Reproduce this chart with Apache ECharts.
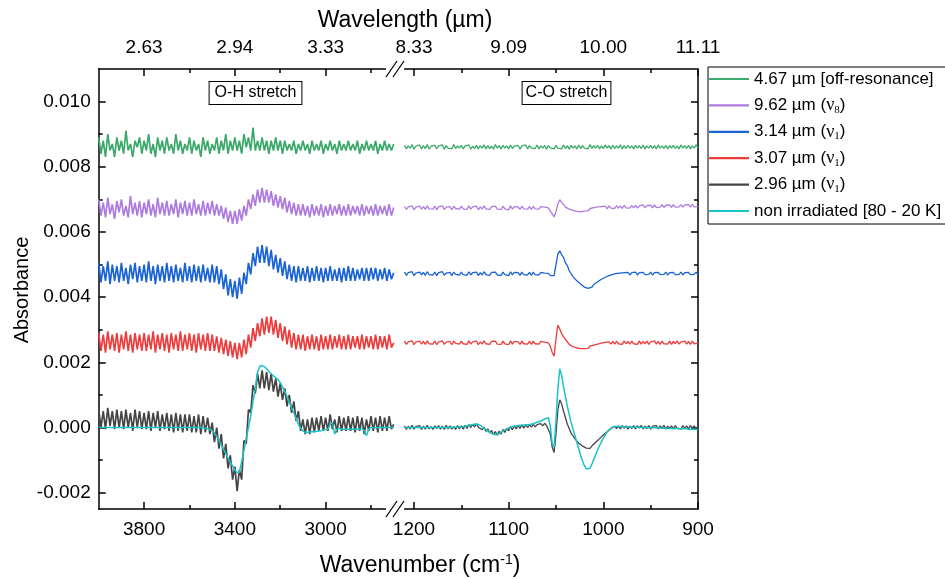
<!DOCTYPE html>
<html><head><meta charset="utf-8">
<script src="https://cdn.jsdelivr.net/npm/echarts@6/dist/echarts.min.js"></script>
<style>html,body{margin:0;padding:0;background:#fff}#c{width:945px;height:579px}</style>
</head><body><div id="c"></div>
<script>
// ---------- x sampling (wavenumber, cm-1) ----------
const wnLeft = [
4000,3990,3980,3970,3960,3950,3940,3930,3920,3910,
3900,3890,3880,3870,3860,3850,3840,3830,3820,3810,
3800,3790,3780,3770,3760,3750,3740,3730,3720,3710,
3700,3690,3680,3670,3660,3650,3640,3630,3620,3610,
3600,3590,3580,3570,3560,3550,3540,3530,3520,3510,
3500,3490,3480,3470,3460,3450,3440,3430,3420,3410,
3400,3390,3380,3370,3360,3350,3340,3330,3320,3310,
3300,3290,3280,3270,3260,3250,3240,3230,3220,3210,
3200,3190,3180,3170,3160,3150,3140,3130,3120,3110,
3100,3090,3080,3070,3060,3050,3040,3030,3020,3010,
3000,2990,2980,2970,2960,2950,2940,2930,2920,2910,
2900,2890,2880,2870,2860,2850,2840,2830,2820,2810,
2800,2790,2780,2770,2760,2750,2740,2730,2720,2710,
2700];
const wnRight = [
1210,1208,1206,1204,1202,1200,1198,1196,1194,1192,
1190,1188,1186,1184,1182,1180,1178,1176,1174,1172,
1170,1168,1166,1164,1162,1160,1158,1156,1154,1152,
1150,1148,1146,1144,1142,1140,1138,1136,1134,1132,
1130,1128,1126,1124,1122,1120,1118,1116,1114,1112,
1110,1108,1106,1104,1102,1100,1098,1096,1094,1092,
1090,1088,1086,1084,1082,1080,1078,1076,1074,1072,
1070,1068,1066,1064,1062,1060,1058,1056,1054,1052,
1050,1048,1046,1044,1042,1040,1038,1036,1034,1032,
1030,1028,1026,1024,1022,1020,1018,1016,1014,1012,
1010,1008,1006,1004,1002,1000,998,996,994,992,
990,988,986,984,982,980,978,976,974,972,
970,968,966,964,962,960,958,956,954,952,
950,948,946,944,942,940,938,936,934,932,
930,928,926,924,922,920,918,916,914,912,
910,908,906,904,902,900];

// ---------- series names & colours ----------
const seriesNames = ['4.67 µm [off-resonance]','9.62 µm (ν8)','3.14 µm (ν1)','3.07 µm (ν1)','2.96 µm (ν1)','non irradiated [80 - 20 K]'];
const seriesColors = ['#3aa96b','#ad7be0','#1a63d6','#ee3b3b','#454545','#17c4c8'];

// ---------- absorbance values, in units of 10^-3 ----------
const offResLeft = [
8.9,8.4,8.8,8.3,9.0,8.5,8.7,8.3,8.9,8.5,
8.8,8.4,9.1,8.5,8.7,8.3,8.8,8.6,8.9,8.4,
8.8,8.5,9.0,8.4,8.7,8.3,8.9,8.5,8.8,8.4,
8.9,8.5,8.7,8.4,9.0,8.5,8.8,8.4,8.7,8.5,
8.9,8.4,8.8,8.5,8.7,8.3,8.9,8.5,8.8,8.4,
8.7,8.5,8.9,8.4,8.8,8.5,9.0,8.4,8.8,8.5,
8.9,8.5,8.8,8.4,9.0,8.6,8.9,8.5,9.2,8.5,
8.8,8.5,8.9,8.5,8.8,8.4,8.8,8.5,8.9,8.5,
8.8,8.4,8.8,8.5,8.7,8.5,8.8,8.4,8.7,8.5,
8.8,8.5,8.7,8.4,8.8,8.5,8.7,8.5,8.8,8.4,
8.7,8.5,8.8,8.5,8.7,8.4,8.8,8.5,8.7,8.5,
8.8,8.5,8.7,8.5,8.8,8.4,8.7,8.5,8.8,8.5,
8.7,8.5,8.8,8.4,8.7,8.5,8.8,8.5,8.7,8.5,
8.7];
const nu8Left = [
7.0,6.5,6.9,6.45,7.05,6.55,6.85,6.4,6.95,6.6,
7.0,6.5,6.8,6.45,7.1,6.55,6.9,6.5,6.95,6.45,
6.9,6.55,7.0,6.5,6.85,6.45,7.05,6.55,6.9,6.5,
6.95,6.5,6.85,6.55,7.0,6.45,6.9,6.55,6.95,6.5,
6.9,6.5,7.0,6.55,6.85,6.5,6.95,6.5,6.9,6.55,
6.95,6.5,6.85,6.5,6.8,6.4,6.75,6.3,6.65,6.25,
6.65,6.25,6.7,6.35,6.8,6.5,7.0,6.7,7.15,6.8,
7.3,6.9,7.35,6.9,7.3,6.9,7.25,6.8,7.15,6.75,
7.1,6.7,7.05,6.6,6.95,6.55,6.9,6.5,6.85,6.5,
6.85,6.5,6.8,6.45,6.85,6.5,6.8,6.5,6.85,6.45,
6.8,6.5,6.85,6.5,6.8,6.55,6.85,6.5,6.8,6.5,
6.85,6.5,6.8,6.55,6.8,6.5,6.85,6.5,6.8,6.55,
6.8,6.5,6.85,6.5,6.8,6.55,6.8,6.5,6.85,6.5,
6.75];
const nu1BlueLeft = [
5.05,4.45,4.95,4.5,5.1,4.4,5.0,4.5,4.95,4.45,
5.05,4.5,4.9,4.4,5.0,4.55,5.05,4.45,4.95,4.5,
5.0,4.45,5.1,4.5,4.95,4.4,5.0,4.5,4.95,4.45,
5.05,4.5,4.95,4.45,5.0,4.5,4.9,4.45,5.05,4.5,
4.95,4.45,5.0,4.5,4.95,4.45,5.0,4.5,4.9,4.45,
5.0,4.45,4.95,4.4,4.85,4.25,4.7,4.05,4.55,4.0,
4.5,3.95,4.6,4.1,4.75,4.4,5.05,4.7,5.35,4.95,
5.55,5.05,5.6,5.05,5.55,4.95,5.45,4.85,5.3,4.75,
5.2,4.65,5.1,4.55,5.0,4.5,4.95,4.45,4.95,4.5,
4.9,4.5,4.95,4.45,4.9,4.5,4.95,4.5,4.9,4.45,
4.9,4.5,4.95,4.5,4.85,4.5,4.9,4.45,4.9,4.5,
4.95,4.5,4.9,4.5,4.85,4.55,4.9,4.5,4.9,4.5,
4.9,4.55,4.9,4.5,4.85,4.55,4.9,4.5,4.85,4.55,
4.75];
const nu1RedLeft = [
2.9,2.35,2.85,2.3,2.95,2.4,2.85,2.35,2.9,2.3,
2.85,2.4,2.95,2.35,2.85,2.3,2.9,2.4,2.85,2.35,
2.9,2.35,2.85,2.4,2.95,2.3,2.85,2.4,2.9,2.35,
2.85,2.3,2.9,2.4,2.85,2.35,2.95,2.35,2.85,2.4,
2.9,2.35,2.85,2.3,2.9,2.4,2.85,2.35,2.9,2.35,
2.85,2.35,2.8,2.3,2.75,2.25,2.7,2.2,2.65,2.15,
2.6,2.1,2.6,2.15,2.7,2.25,2.85,2.45,3.05,2.65,
3.2,2.8,3.35,2.85,3.4,2.9,3.4,2.85,3.3,2.75,
3.2,2.65,3.1,2.55,3.0,2.45,2.9,2.4,2.85,2.4,
2.85,2.35,2.8,2.4,2.85,2.4,2.8,2.35,2.85,2.4,
2.8,2.4,2.85,2.4,2.8,2.45,2.85,2.4,2.8,2.4,
2.85,2.4,2.8,2.45,2.8,2.4,2.85,2.4,2.8,2.45,
2.8,2.4,2.85,2.4,2.8,2.45,2.8,2.4,2.85,2.45,
2.6];
const nu1GrayLeft = [
0.55,0.00,0.50,-0.05,0.60,0.05,0.50,-0.05,0.55,0.00,
0.50,-0.05,0.55,0.00,0.45,-0.10,0.55,0.00,0.50,-0.05,
0.45,-0.05,0.50,-0.10,0.45,0.00,0.50,-0.10,0.40,-0.05,
0.45,-0.10,0.40,-0.15,0.45,-0.10,0.40,-0.15,0.40,-0.10,
0.40,-0.15,0.35,-0.15,0.40,-0.20,0.35,-0.15,0.30,-0.20,
0.15,-0.45,0.00,-0.65,-0.20,-0.95,-0.50,-1.25,-0.85,-1.60,
-1.20,-1.95,-1.30,-1.60,-0.40,-0.50,0.55,0.45,1.30,1.05,
1.65,1.20,1.75,1.20,1.70,1.15,1.65,1.10,1.50,0.95,
1.35,0.85,1.20,0.65,1.00,0.45,0.80,0.20,0.50,-0.10,
0.25,-0.20,0.25,-0.20,0.30,-0.15,0.30,-0.10,0.35,-0.10,
0.30,-0.10,0.40,-0.05,0.25,-0.15,0.35,-0.10,0.30,-0.10,
0.35,-0.10,0.30,-0.15,0.35,-0.10,0.30,-0.20,0.25,-0.10,
0.35,-0.10,0.30,-0.15,0.35,-0.10,0.30,-0.10,0.35,-0.05,
0.10];
const nonIrrLeft = [
0,0,0,0,0,0,0,0,0,0,
0,0,0,0,0,0,0,0,0,0,
0,0,0,0,0,0,0,0,0,0,
0,0,0,0,0,0,0,0,0,0,
0,0,0,0,0,0,-0.01,-0.02,-0.04,-0.06,
-0.10,-0.17,-0.27,-0.40,-0.53,-0.67,-0.80,-0.94,-1.07,-1.18,
-1.30,-1.38,-1.37,-1.05,-0.70,-0.35,0.00,0.35,0.80,1.20,
1.70,1.88,1.90,1.87,1.80,1.72,1.65,1.59,1.53,1.47,
1.38,1.25,1.10,0.95,0.80,0.60,0.45,0.28,0.10,-0.02,
-0.10,-0.15,-0.15,-0.14,-0.13,-0.12,-0.12,-0.11,-0.10,-0.08,
-0.06,-0.05,0.10,0.15,-0.20,-0.05,-0.02,-0.06,-0.06,-0.05,
-0.05,-0.05,-0.05,-0.05,-0.05,-0.05,-0.02,-0.10,-0.25,-0.05,
0,0,0,0,0,0,0,0,0,0,
0];

const offResRight = [
8.66,8.55,8.64,8.57,8.68,8.54,8.63,8.58,8.67,8.55,
8.65,8.56,8.68,8.54,8.63,8.57,8.66,8.55,8.64,8.58,
8.67,8.54,8.65,8.57,8.63,8.55,8.68,8.56,8.64,8.57,
8.66,8.55,8.64,8.58,8.67,8.54,8.63,8.56,8.66,8.55,
8.64,8.57,8.67,8.55,8.65,8.56,8.63,8.54,8.68,8.57,
8.65,8.55,8.66,8.57,8.64,8.55,8.67,8.56,8.63,8.57,
8.66,8.54,8.64,8.58,8.67,8.55,8.65,8.57,8.63,8.56,
8.67,8.55,8.64,8.57,8.66,8.54,8.65,8.58,8.64,8.55,
8.66,8.57,8.63,8.55,8.67,8.56,8.65,8.54,8.66,8.57,
8.64,8.55,8.67,8.56,8.65,8.57,8.63,8.55,8.68,8.56,
8.65,8.57,8.66,8.55,8.64,8.56,8.67,8.57,8.65,8.55,
8.66,8.56,8.64,8.57,8.67,8.55,8.65,8.56,8.66,8.57,
8.64,8.55,8.66,8.57,8.65,8.56,8.67,8.55,8.64,8.57,
8.66,8.56,8.65,8.55,8.67,8.57,8.64,8.56,8.66,8.55,
8.65,8.57,8.66,8.56,8.64,8.55,8.67,8.57,8.65,8.56,
8.66,8.55,8.64,8.57,8.67,8.58];
const nu8Right = [
6.79,6.69,6.77,6.71,6.80,6.68,6.76,6.72,6.79,6.70,
6.78,6.69,6.80,6.71,6.76,6.70,6.79,6.68,6.77,6.72,
6.80,6.69,6.76,6.71,6.78,6.68,6.79,6.72,6.77,6.70,
6.79,6.71,6.76,6.69,6.80,6.70,6.77,6.72,6.79,6.68,
6.77,6.70,6.80,6.71,6.76,6.69,6.78,6.72,6.79,6.70,
6.76,6.69,6.79,6.71,6.77,6.68,6.80,6.70,6.78,6.72,
6.77,6.69,6.79,6.71,6.76,6.70,6.78,6.69,6.79,6.71,
6.77,6.70,6.78,6.72,6.76,6.70,6.74,6.63,6.56,6.46,
6.62,6.86,6.99,6.91,6.87,6.76,6.75,6.70,6.72,6.66,
6.69,6.63,6.68,6.62,6.68,6.64,6.69,6.65,6.72,6.68,
6.75,6.70,6.77,6.71,6.78,6.72,6.79,6.71,6.80,6.73,
6.79,6.72,6.81,6.73,6.80,6.72,6.82,6.74,6.80,6.73,
6.81,6.74,6.82,6.73,6.80,6.75,6.83,6.74,6.81,6.75,
6.82,6.74,6.83,6.75,6.81,6.76,6.84,6.75,6.82,6.76,
6.83,6.75,6.84,6.76,6.82,6.77,6.84,6.76,6.83,6.77,
6.84,6.76,6.85,6.77,6.83,6.78];
const nu1BlueRight = [
4.77,4.67,4.75,4.69,4.78,4.66,4.74,4.70,4.77,4.68,
4.76,4.67,4.78,4.69,4.74,4.68,4.77,4.66,4.75,4.70,
4.78,4.67,4.74,4.69,4.76,4.66,4.77,4.70,4.75,4.68,
4.77,4.69,4.74,4.67,4.78,4.68,4.75,4.70,4.77,4.66,
4.75,4.68,4.78,4.69,4.74,4.67,4.76,4.70,4.77,4.68,
4.74,4.67,4.77,4.69,4.75,4.66,4.78,4.68,4.76,4.70,
4.75,4.67,4.77,4.69,4.74,4.68,4.76,4.67,4.77,4.69,
4.75,4.68,4.76,4.70,4.74,4.68,4.73,4.66,4.61,4.66,
5.00,5.33,5.42,5.30,5.22,5.05,4.97,4.81,4.75,4.63,
4.60,4.50,4.49,4.40,4.39,4.31,4.32,4.27,4.32,4.31,
4.39,4.39,4.47,4.47,4.55,4.54,4.61,4.60,4.66,4.64,
4.70,4.67,4.73,4.69,4.74,4.68,4.75,4.69,4.76,4.68,
4.75,4.69,4.77,4.68,4.75,4.70,4.76,4.69,4.74,4.70,
4.77,4.68,4.75,4.70,4.76,4.69,4.74,4.70,4.77,4.68,
4.75,4.70,4.76,4.69,4.74,4.70,4.77,4.68,4.75,4.70,
4.76,4.69,4.75,4.70,4.77,4.69];
const nu1RedRight = [
2.65,2.55,2.63,2.57,2.66,2.54,2.62,2.58,2.65,2.56,
2.64,2.55,2.66,2.57,2.62,2.56,2.65,2.54,2.63,2.58,
2.66,2.55,2.62,2.57,2.64,2.54,2.65,2.58,2.63,2.56,
2.65,2.57,2.62,2.55,2.66,2.56,2.63,2.58,2.65,2.54,
2.63,2.56,2.66,2.57,2.62,2.55,2.64,2.58,2.65,2.56,
2.62,2.55,2.65,2.57,2.63,2.54,2.66,2.56,2.64,2.58,
2.63,2.55,2.65,2.57,2.62,2.56,2.64,2.55,2.65,2.57,
2.63,2.56,2.64,2.58,2.62,2.56,2.60,2.49,2.30,2.19,
2.72,3.14,3.02,2.88,2.78,2.70,2.64,2.55,2.56,2.48,
2.51,2.44,2.49,2.42,2.48,2.42,2.48,2.43,2.50,2.45,
2.53,2.48,2.56,2.50,2.59,2.53,2.61,2.55,2.63,2.56,
2.64,2.56,2.65,2.57,2.63,2.55,2.66,2.57,2.64,2.56,
2.65,2.57,2.63,2.55,2.66,2.56,2.64,2.57,2.65,2.55,
2.63,2.57,2.66,2.56,2.64,2.55,2.65,2.57,2.63,2.56,
2.65,2.55,2.64,2.57,2.66,2.56,2.63,2.57,2.65,2.56,
2.64,2.55,2.65,2.57,2.63,2.58];
const nu1GrayRight = [
0.05,-0.06,0.04,-0.04,0.07,-0.05,0.03,-0.03,0.06,-0.06,
0.04,-0.05,0.07,-0.04,0.03,-0.06,0.05,-0.03,0.06,-0.05,
0.04,-0.06,0.07,-0.04,0.05,-0.05,0.03,-0.06,0.06,-0.04,
0.05,-0.05,0.07,-0.03,0.09,0.00,0.10,0.02,0.11,0.01,
0.06,-0.07,0.01,-0.12,-0.04,-0.17,-0.09,-0.22,-0.12,-0.24,
-0.11,-0.20,-0.06,-0.15,-0.02,-0.10,0.03,-0.07,0.05,-0.04,
0.07,-0.03,0.08,-0.02,0.09,0.00,0.08,0.01,0.10,0.02,
0.09,0.03,0.12,0.05,0.13,0.06,0.08,-0.20,-0.60,-0.77,
-0.20,0.55,0.85,0.72,0.50,0.30,0.10,-0.03,-0.18,-0.26,
-0.35,-0.40,-0.48,-0.51,-0.57,-0.58,-0.63,-0.61,-0.64,-0.56,
-0.53,-0.45,-0.43,-0.34,-0.32,-0.23,-0.21,-0.13,-0.11,-0.04,
-0.04,0.04,-0.03,0.05,-0.04,0.06,-0.02,0.05,-0.05,0.04,
-0.03,0.06,-0.04,0.05,-0.02,0.07,-0.04,0.04,-0.03,0.06,
-0.05,0.04,-0.02,0.06,-0.04,0.05,-0.03,0.07,-0.05,0.04,
-0.03,0.05,-0.04,0.06,-0.02,0.04,-0.05,0.06,-0.03,0.05,
-0.04,0.06,-0.02,0.05,-0.04,0.03];
const nonIrrRight = [
0,0,0,0,0,0,0,0,0,0,
0,0,0,0,0,0,0,0,0,0,
0,0,0,0,0,0.01,0.01,0.01,0.01,0.02,
0.02,0.03,0.04,0.05,0.06,0.08,0.09,0.10,0.11,0.10,
0.07,0.03,-0.02,-0.07,-0.11,-0.15,-0.18,-0.20,-0.22,-0.21,
-0.19,-0.15,-0.11,-0.07,-0.04,-0.01,0.01,0.03,0.04,0.05,
0.06,0.07,0.07,0.08,0.08,0.09,0.09,0.10,0.12,0.14,
0.16,0.18,0.20,0.23,0.26,0.28,0.30,0.05,-0.50,-0.60,
0.20,1.20,1.80,1.60,1.25,0.95,0.65,0.40,0.15,-0.05,
-0.25,-0.45,-0.65,-0.85,-1.02,-1.17,-1.27,-1.32,-1.25,-1.12,
-0.97,-0.83,-0.69,-0.56,-0.44,-0.33,-0.23,-0.14,-0.07,-0.02,
0.02,0.03,0.03,0.03,0.03,0.02,0.02,0.02,0.02,0.02,
0.01,0.01,0.01,0.01,0.01,0,0,0,0,0,
-0.01,-0.01,-0.01,-0.01,-0.01,-0.02,-0.02,-0.02,-0.02,-0.02,
-0.03,-0.03,-0.03,-0.03,-0.03,-0.04,-0.04,-0.04,-0.04,-0.04,
-0.05,-0.05,-0.05,-0.06,-0.06,-0.06];

// ---------- ticks ----------
const yMajorTicks = [-2,0,2,4,6,8,10];
const yMinorTicks = [-1,1,3,5,7,9];
const xMajorLeft = [3800,3400,3000];
const xMinorLeft = [3600,3200,2800];
const xMajorRight = [1200,1100,1000,900];
const xMinorRight = [1150,1050,950];
const annotations = ['O-H stretch','C-O stretch'];

// ---------- chart ----------
const FONT = 'Liberation Sans';
const black = {color:'#000', width:1.5};

function xAxisDef(gridIndex, position, min, max, ticks, len, label) {
  return {
    type:'value', gridIndex, position, min, max, inverse:true,
    axisLine:{show: len > 5, onZero:false, lineStyle:black},
    axisTick:{show:true, inside:true, length:len, customValues:ticks, lineStyle:black},
    axisLabel: label ? Object.assign({show:true, customValues:ticks, color:'#000', fontFamily:FONT, fontSize:19,
      formatter: v => String(v)}, label) : {show:false},
    splitLine:{show:false}
  };
}
function yAxisDef(gridIndex, position, ticks, len, label) {
  return {
    type:'value', gridIndex, position, min:-2.5, max:11,
    axisLine:{show: len > 5, onZero:false, lineStyle:black},
    axisTick:{show:true, inside:true, length:len, customValues:ticks, lineStyle:black},
    axisLabel: label ? {show:true, customValues:ticks, color:'#000', fontFamily:FONT, fontSize:19, margin:8,
      formatter: v => (v/1000).toFixed(3)} : {show:false},
    splitLine:{show:false}
  };
}
const wlFmt = v => (10000/v).toFixed(2);

const xAxes = [
  xAxisDef(0,'bottom',2700,4000,xMajorLeft,7,{margin:11}),
  xAxisDef(0,'bottom',2700,4000,xMinorLeft,4,null),
  xAxisDef(0,'top',2700,4000,xMajorLeft,7,{margin:12, formatter:wlFmt}),
  xAxisDef(0,'top',2700,4000,xMinorLeft,4,null),
  xAxisDef(1,'bottom',900,1210,xMajorRight,7,{margin:11}),
  xAxisDef(1,'bottom',900,1210,xMinorRight,4,null),
  xAxisDef(1,'top',900,1210,xMajorRight,7,{margin:12, formatter:wlFmt}),
  xAxisDef(1,'top',900,1210,xMinorRight,4,null)
];
const yAxes = [
  yAxisDef(0,'left',yMajorTicks,7,true),
  yAxisDef(0,'left',yMinorTicks,4,false),
  yAxisDef(1,'right',yMajorTicks,7,false),
  yAxisDef(1,'right',yMinorTicks,4,false)
];

const leftSets = [offResLeft, nu8Left, nu1BlueLeft, nu1RedLeft, nu1GrayLeft, nonIrrLeft];
const rightSets = [offResRight, nu8Right, nu1BlueRight, nu1RedRight, nu1GrayRight, nonIrrRight];
const series = [];
seriesNames.forEach((name, k) => {
  const col = seriesColors[k];
  const isCyan = k === 5;
  series.push({name, type:'line', xAxisIndex:0, yAxisIndex:0, symbol:'none', showSymbol:false,
    data: wnLeft.map((w,i)=>[w, leftSets[k][i]]), lineStyle:{color:col, width: isCyan?1.5:1.7},
    itemStyle:{color:col}, z: 2 + k, silent:true});
  series.push({name, type:'line', xAxisIndex:4, yAxisIndex:2, symbol:'none', showSymbol:false,
    data: wnRight.map((w,i)=>[w, rightSets[k][i]]), lineStyle:{color:col, width: isCyan?1.5:1.3},
    itemStyle:{color:col}, z: 2 + k, silent:true});
});

const breakMarks = [];
[69, 509].forEach(y => {
  breakMarks.push({type:'rect', shape:{x:386, y:y-2.5, width:18, height:5}, style:{fill:'#fff'}, z:100});
  breakMarks.push({type:'line', shape:{x1:386, y1:y+8, x2:397, y2:y-8}, style:{stroke:'#000', lineWidth:1.3}, z:101});
  breakMarks.push({type:'line', shape:{x1:393, y1:y+8, x2:404, y2:y-8}, style:{stroke:'#000', lineWidth:1.3}, z:101});
});

const option = {
  animation:false,
  backgroundColor:'#fff',
  grid:[
    {left:98.7, top:69, width:295, height:440, outerBoundsMode:'none', containLabel:false},
    {left:404.5, top:69, width:293.5, height:440, outerBoundsMode:'none', containLabel:false}
  ],
  xAxis: xAxes,
  yAxis: yAxes,
  legend:{
    data: seriesNames.map((n,k)=>({name:n, icon:'rect', itemStyle:{color:seriesColors[k]}})),
    orient:'vertical', left:708, top:67, padding:[2,8,3,1], itemGap:6.4,
    itemWidth:40, itemHeight:2.2, borderColor:'#000', borderWidth:1, borderRadius:0, backgroundColor:'#fff',
    selectedMode:false,
    textStyle:{fontFamily:FONT, fontSize:17, color:'#000', lineHeight:20,
      rich:{
        t:{fontFamily:FONT, fontSize:17, color:'#000', lineHeight:20},
        v:{fontFamily:'Liberation Serif', fontSize:18, color:'#000', lineHeight:20},
        s:{fontFamily:'Liberation Serif', fontSize:11, color:'#000', lineHeight:12, verticalAlign:'bottom'}
      }},
    formatter: function(name){
      const m = name.match(/^(.*\()ν(\d+)\)$/);
      if (m) return '{t|' + m[1] + '}{v|ν}{s|' + m[2] + '}{t|)}';
      return '{t|' + name + '}';
    }
  },
  graphic:[
    {type:'text', x:405, y:21, style:{text:'Wavelength (µm)', fontFamily:FONT, fontSize:23, fill:'#000', align:'center', verticalAlign:'middle'}},
    {type:'text', x:420, y:566, style:{text:'{a|Wavenumber (cm}{b|-1}{a|)}', align:'center', verticalAlign:'middle',
      rich:{a:{fontFamily:FONT, fontSize:23, fill:'#000', lineHeight:26}, b:{fontFamily:FONT, fontSize:14, fill:'#000', lineHeight:14, verticalAlign:'top'}}}},
    {type:'text', x:22, y:290, rotation:Math.PI/2, style:{text:'Absorbance', fontFamily:FONT, fontSize:20, fill:'#000', align:'center', verticalAlign:'middle'}},
    {type:'text', x:255.5, y:93, z:50, style:{text:annotations[0], fontFamily:FONT, fontSize:16, fill:'#000', align:'center', verticalAlign:'middle',
      backgroundColor:'#fff', borderColor:'#000', borderWidth:1, padding:[3,5,3,5]}},
    {type:'text', x:566.5, y:93, z:50, style:{text:annotations[1], fontFamily:FONT, fontSize:16, fill:'#000', align:'center', verticalAlign:'middle',
      backgroundColor:'#fff', borderColor:'#000', borderWidth:1, padding:[3,3,3,3]}}
  ].concat(breakMarks),
  series
};
const chart = echarts.init(document.getElementById('c'), null, {renderer:'canvas'});
chart.setOption(option);
</script></body></html>
